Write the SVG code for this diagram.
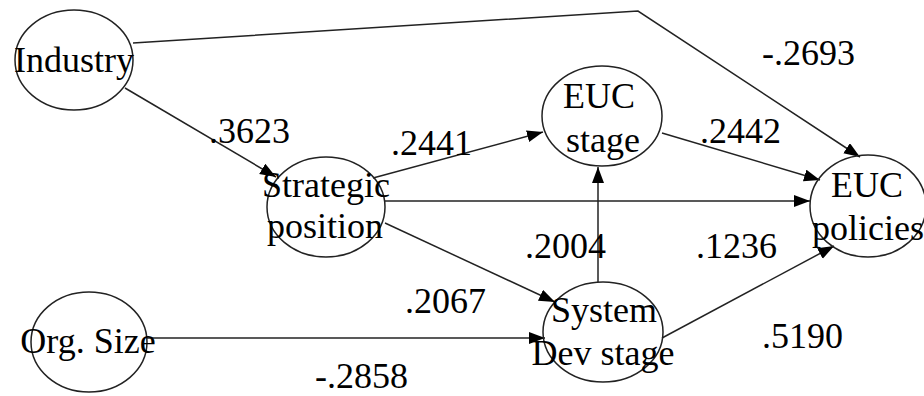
<svg xmlns="http://www.w3.org/2000/svg" width="924" height="396" viewBox="0 0 924 396">
  <style>
    .node ellipse { fill: none; stroke: #222; stroke-width: 1.5; }
    .node text, .label { font-family: "Liberation Serif", "Times New Roman", serif; font-size: 36px; fill: #000; }
    .node text { text-anchor: middle; }
    .edge { fill: none; stroke: #222; stroke-width: 1.5; marker-end: url(#arrow); }
  </style>
  <defs>
    <marker id="arrow" markerUnits="userSpaceOnUse" markerWidth="18" markerHeight="14" refX="16" refY="6" orient="auto">
      <path d="M0,0 L16,6 L0,12 z" fill="#000"/>
    </marker>
  </defs>
  <rect width="924" height="396" fill="#fff"/>

  <!-- connectors -->
  <g id="connectors">
    <polyline class="edge" points="133,43 638,11 860,157"/>
    <line class="edge" x1="125" y1="88" x2="276" y2="177"/>
    <line class="edge" x1="373" y1="178" x2="543" y2="132"/>
    <line class="edge" x1="385" y1="201" x2="810" y2="201"/>
    <line class="edge" x1="385" y1="223" x2="555" y2="302"/>
    <line class="edge" x1="662" y1="133" x2="820" y2="180"/>
    <line class="edge" x1="598" y1="282" x2="598" y2="167"/>
    <line class="edge" x1="662" y1="338" x2="834" y2="246"/>
    <line class="edge" x1="147" y1="338" x2="545" y2="338"/>
  </g>

  <!-- path coefficients -->
  <g id="labels">
    <text class="label" x="762" y="65">-.2693</text>
    <text class="label" x="209" y="143">.3623</text>
    <text class="label" x="391" y="155">.2441</text>
    <text class="label" x="700" y="143">.2442</text>
    <text class="label" x="525" y="258">.2004</text>
    <text class="label" x="696" y="258">.1236</text>
    <text class="label" x="405" y="313">.2067</text>
    <text class="label" x="762" y="348">.5190</text>
    <text class="label" x="315" y="388">-.2858</text>
  </g>

  <!-- nodes -->
  <g id="industry" class="node">
    <ellipse cx="74" cy="60" rx="59" ry="50"/>
    <text x="74" y="72">Industry</text>
  </g>
  <g id="strategic-position" class="node">
    <ellipse cx="326" cy="207" rx="59" ry="50"/>
    <text x="326" y="197">Strategic</text>
    <text x="325" y="238">position</text>
  </g>
  <g id="euc-stage" class="node">
    <ellipse cx="602" cy="116" rx="60" ry="50"/>
    <text x="599" y="108">EUC</text>
    <text x="603" y="152">stage</text>
  </g>
  <g id="euc-policies" class="node">
    <ellipse cx="868" cy="206" rx="58" ry="51"/>
    <text x="867" y="197">EUC</text>
    <text x="868" y="240">policies</text>
  </g>
  <g id="org-size" class="node">
    <ellipse cx="89" cy="342" rx="58" ry="50"/>
    <text x="88" y="353">Org. Size</text>
  </g>
  <g id="system-dev-stage" class="node">
    <ellipse cx="603" cy="332" rx="60" ry="50"/>
    <text x="604" y="322">System</text>
    <text x="603" y="365">Dev stage</text>
  </g>
</svg>
